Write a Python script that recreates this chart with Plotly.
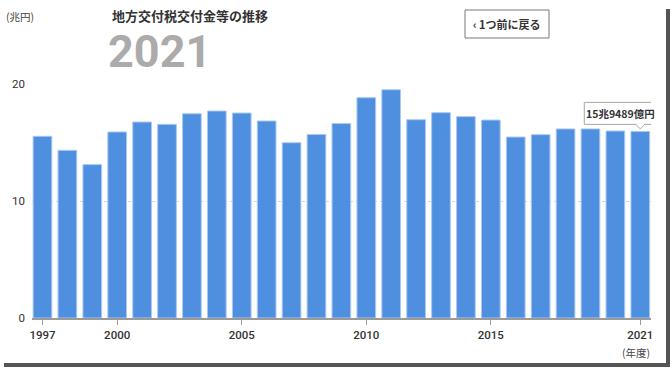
import plotly.graph_objects as go

years = list(range(1997, 2022))
values = [15.53, 14.33, 13.11, 15.90, 16.75, 16.55, 17.46, 17.69, 17.52, 16.84,
          14.98, 15.68, 16.62, 18.83, 19.51, 16.95, 17.55, 17.21, 16.92, 15.47,
          15.67, 16.16, 16.16, 15.98, 15.9489]
tick_years = [1997, 2000, 2005, 2010, 2015, 2021]
y_ticks = [0, 10, 20]
title_text = "地方交付税交付金等の推移"
year_text = "2021"
unit_y = "(兆円)"
unit_x = "(年度)"
back_text = "‹ 1つ前に戻る"

CJK = "Noto Sans CJK JP, Roboto, sans-serif"
NUM = "Roboto, Noto Sans CJK JP, sans-serif"

last_v = values[-1]
cho = int(last_v)
oku = round((last_v - cho) * 10000)
label_text = f"{cho}兆{oku}億円"

fig = go.Figure()
fig.add_trace(go.Bar(
    x=years, y=values,
    marker=dict(color="#4F8FE0", line=dict(color="#A9C9F2", width=1)),
    hoverinfo="skip",
))

fig.update_layout(
    width=672, height=369,
    margin=dict(l=32, r=21, t=84, b=51),
    paper_bgcolor="white", plot_bgcolor="white",
    showlegend=False, bargap=0.25,
    xaxis=dict(
        range=[1996.58, 2021.43], tickvals=tick_years, ticktext=[str(t) for t in tick_years],
        showgrid=False, showline=True, linecolor="#9a9a9a", linewidth=2,
        ticks="outside", ticklen=5, tickcolor="#9a9a9a", tickwidth=1,
        tickfont=dict(family=NUM, size=11.5, color="#333", weight=500),
        zeroline=False, fixedrange=True,
    ),
    yaxis=dict(
        range=[0, 20], tickvals=y_ticks, showgrid=True, gridcolor="#d4d4d4",
        griddash="dot", gridwidth=1, zeroline=False, showline=False, ticks="",
        ticklabelstandoff=6,
        tickfont=dict(family=NUM, size=11.5, color="#333"),
        fixedrange=True,
    ),
)

shapes = []
# label box at last bar
shapes.append(dict(type="rect", xref="x", yref="y", xsizemode="pixel", ysizemode="pixel",
                   xanchor=years[-1], yanchor=last_v, x0=-56, x1=17, y0=7, y1=29,
                   line=dict(color="#a8a8a8", width=1), fillcolor="white", layer="above"))
shapes.append(dict(type="path", xref="x", yref="y", xsizemode="pixel", ysizemode="pixel",
                   xanchor=years[-1], yanchor=last_v,
                   path="M -5,7.5 L 0,2.5 L 5,7.5",
                   line=dict(color="#a8a8a8", width=1), fillcolor="white", layer="above"))
# back button
shapes.append(dict(type="rect", xref="paper", yref="paper", xsizemode="pixel", ysizemode="pixel",
                   xanchor=0, yanchor=0, x0=465 - 32, x1=549 - 32, y0=318 - 38, y1=318 - 10,
                   line=dict(color="#777", width=1), fillcolor="white", layer="above"))
# frame shadow
shapes.append(dict(type="rect", xref="paper", yref="paper", xsizemode="pixel", ysizemode="pixel",
                   xanchor=0, yanchor=0, x0=666 - 32, x1=670 - 32, y0=318 - 367, y1=318 - 9,
                   line=dict(width=0), fillcolor="#555", layer="above"))
shapes.append(dict(type="rect", xref="paper", yref="paper", xsizemode="pixel", ysizemode="pixel",
                   xanchor=0, yanchor=0, x0=4 - 32, x1=670 - 32, y0=318 - 367, y1=318 - 363,
                   line=dict(width=0), fillcolor="#555", layer="above"))
fig.update_layout(shapes=shapes)

ann = []
ann.append(dict(x=years[-1], y=last_v, xref="x", yref="y", text=label_text, showarrow=False,
                xshift=-19.5, yshift=18, xanchor="center", yanchor="middle",
                font=dict(family=CJK, size=10.5, color="#333", weight="bold")))
ann.append(dict(x=0, y=1, xref="paper", yref="paper", text=unit_y, showarrow=False,
                xshift=-28, yshift=84 - 16, xanchor="left", yanchor="middle",
                font=dict(family=CJK, size=10.5, color="#444")))
ann.append(dict(x=1, y=0, xref="paper", yref="paper", text=unit_x, showarrow=False,
                xshift=1, yshift=-(352 - 318), xanchor="right", yanchor="middle",
                font=dict(family=CJK, size=10.5, color="#444")))
ann.append(dict(x=0, y=1, xref="paper", yref="paper", text=title_text, showarrow=False,
                xshift=110 - 32, yshift=84 - 15.5, xanchor="left", yanchor="middle",
                font=dict(family=CJK, size=13, color="#333", weight="bold")))
ann.append(dict(x=0, y=1, xref="paper", yref="paper", text=year_text, showarrow=False,
                xshift=106 - 32, yshift=84 - 51, xanchor="left", yanchor="middle",
                font=dict(family=NUM, size=45, color="#ababab", weight="bold")))
ann.append(dict(x=0, y=0, xref="paper", yref="paper", text=back_text, showarrow=False,
                xshift=507 - 32, yshift=318 - 24, xanchor="center", yanchor="middle",
                font=dict(family=CJK, size=11, color="#333", weight="bold")))
fig.update_layout(annotations=ann)

fig.write_html("out.html", config={"displayModeBar": False},
               post_script="document.body.style.margin='0px';document.body.style.overflow='hidden';")
